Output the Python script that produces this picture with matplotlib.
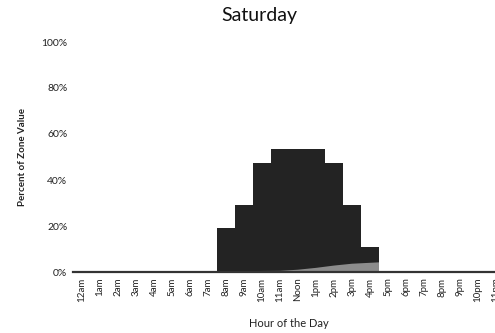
import matplotlib
matplotlib.use("Agg")
import matplotlib.pyplot as plt
import numpy as np

hours = ["12am", "1am", "2am", "3am", "4am", "5am", "6am", "7am", "8am", "9am",
         "10am", "11am", "Noon", "1pm", "2pm", "3pm", "4pm", "5pm", "6pm", "7pm",
         "8pm", "9pm", "10pm", "11pm"]
zone_share = [0, 0, 0, 0, 0, 0, 0, 0, 19, 29, 47.5, 53.5, 53.5, 53.5, 47.5, 29, 11,
              0, 0, 0, 0, 0, 0, 0]
# lighter portion sitting at the base of the occupied hours
base_hours = [7.5, 11.0, 12.0, 13.0, 14.0, 15.0, 16.5]
base_share = [0.3, 0.5, 1.0, 1.8, 2.8, 3.6, 4.2]
yticks = [0, 20, 40, 60, 80, 100]

plt.rcParams["font.family"] = ["Lato", "DejaVu Sans"]

W, H = 495, 333
fig = plt.figure(figsize=(W / 100, H / 100), dpi=100)
left, right, bottom, top = 73, 505, 272, 42
ax = fig.add_axes([left / W, 1 - bottom / H, (right - left) / W, (bottom - top) / H])

x = np.arange(len(hours))
ax.bar(x, zone_share, width=1.0, color="#232323", edgecolor="none", zorder=2)
ax.fill_between(base_hours, 0, base_share, color="#8c8c8c", edgecolor="none", zorder=3)

ax.set_xlim(-0.5, len(hours) - 0.5)
ax.set_ylim(0, 100)
ax.set_xticks(x)
ax.set_xticklabels(hours, rotation=90, fontsize=7, color="#222222")
ax.set_yticks(yticks)
ax.set_yticklabels([f"{v}%" for v in yticks], fontsize=7.5, color="#222222")
ax.tick_params(axis="both", length=0, pad=4)

for side in ("top", "right", "left"):
    ax.spines[side].set_visible(False)
ax.spines["bottom"].set_color("#333333")
ax.spines["bottom"].set_linewidth(1.6)
ax.spines["bottom"].set_zorder(4)

ax.set_xlabel("Hour of the Day", fontsize=8, color="#222222", labelpad=5)
ax.xaxis.set_label_coords((289 - left) / (right - left), -0.2)
ax.set_ylabel("Percent of Zone Value", fontsize=7, fontweight="bold", color="#222222")
ax.yaxis.set_label_coords(-(left - 27) / (right - left), 0.5)

fig.text(259 / W, 1 - 15 / H, "Saturday", ha="center", va="center", fontsize=14, color="#111111")

fig.savefig("out.png", dpi=100, facecolor="white")
